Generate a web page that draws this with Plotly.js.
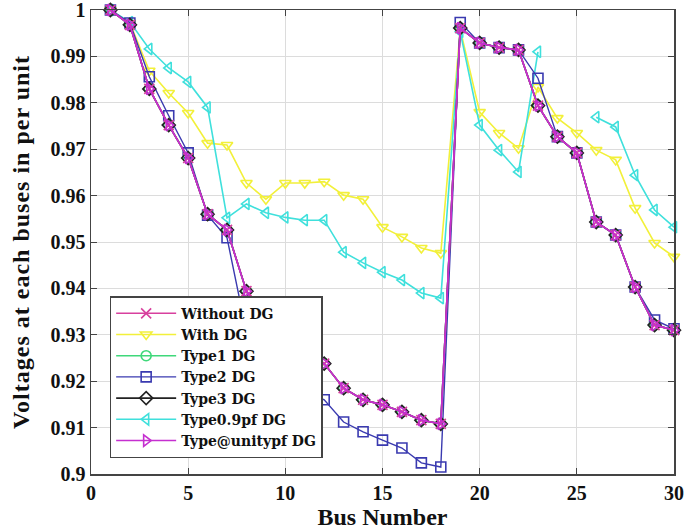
<!DOCTYPE html>
<html>
<head>
<meta charset="utf-8">
<script src="https://cdn.plot.ly/plotly-3.0.1.min.js"></script>
<style>
  html, body { margin: 0; padding: 0; background: #fff; }
  #chart { width: 685px; height: 530px; }
  #chart .ytitle { letter-spacing: 1px; }
</style>
</head>
<body>
<div id="chart"></div>
<script>
const buses = [1,2,3,4,5,6,7,8,9,10,11,12,13,14,15,16,17,18,19,20,21,22,23,24,25,26,27,28,29,30];

const withoutDG = [1.000,0.9968,0.9830,0.9752,0.9681,0.9560,0.9526,0.9394,0.9320,0.9265,0.9255,0.9238,0.9185,0.9160,0.9149,0.9134,0.9116,0.9108,0.9961,0.9929,0.9919,0.9914,0.9794,0.9727,0.9692,0.9543,0.9515,0.9403,0.9321,0.9310];
const withDG    = [1.000,0.9972,0.9869,0.9821,0.9778,0.9713,0.9709,0.9627,0.9592,0.9627,0.9627,0.9630,0.9601,0.9592,0.9532,0.9511,0.9487,0.9476,0.9958,0.9780,0.9735,0.9702,0.9834,0.9767,0.9735,0.9698,0.9677,0.9573,0.9498,0.9468];
const type1DG   = [1.000,0.9968,0.9830,0.9752,0.9681,0.9560,0.9526,0.9394,0.9320,0.9265,0.9255,0.9238,0.9185,0.9160,0.9149,0.9134,0.9116,0.9108,0.9961,0.9929,0.9919,0.9914,0.9794,0.9727,0.9692,0.9543,0.9515,0.9403,0.9321,0.9310];
const type2DG   = [1.000,0.9972,0.9856,0.9772,0.9692,0.9558,0.9509,0.9305,0.9245,0.9195,0.9180,0.9160,0.9112,0.9091,0.9073,0.9056,0.9024,0.9015,0.9973,0.9929,0.9919,0.9914,0.9853,0.9727,0.9692,0.9543,0.9515,0.9403,0.9332,0.9313];
const type3DG   = [1.000,0.9968,0.9830,0.9752,0.9681,0.9560,0.9526,0.9394,0.9320,0.9265,0.9255,0.9238,0.9185,0.9160,0.9149,0.9134,0.9116,0.9108,0.9961,0.9929,0.9919,0.9914,0.9794,0.9727,0.9692,0.9543,0.9515,0.9403,0.9321,0.9310];
const type09pfDG= [1.000,0.9974,0.9916,0.9875,0.9845,0.9790,0.9552,0.9582,0.9563,0.9553,0.9547,0.9547,0.9478,0.9455,0.9435,0.9418,0.9390,0.9379,0.9953,0.9752,0.9698,0.9651,0.9910,null,null,0.9769,0.9748,0.9644,0.9569,0.9532];
const unitypfDG = [1.000,0.9968,0.9830,0.9752,0.9681,0.9560,0.9526,0.9394,0.9320,0.9265,0.9255,0.9238,0.9185,0.9160,0.9149,0.9134,0.9116,0.9108,0.9961,0.9929,0.9919,0.9914,0.9794,0.9727,0.9692,0.9543,0.9515,0.9403,0.9321,0.9310];

const seriesNames = ['Without DG','With DG','Type1 DG','Type2 DG','Type3 DG','Type0.9pf DG','Type@unitypf DG'];
const xTicks = [0,5,10,15,20,25,30];
const yTicks = [0.9,0.91,0.92,0.93,0.94,0.95,0.96,0.97,0.98,0.99,1];
const yTickText = ['0.9','0.91','0.92','0.93','0.94','0.95','0.96','0.97','0.98','0.99','1'];

function tr(y, name, color, symbol, rank, lw) {
  return {
    x: buses, y: y, name: name, type: 'scatter', mode: 'lines+markers',
    line: {color: color, width: lw || 1.6},
    marker: {symbol: symbol, size: 10, color: color, line: {color: color, width: 1.6}},
    legendrank: rank, cliponaxis: false, connectgaps: false
  };
}

const traces = [
  tr(withDG, seriesNames[1], '#f2f03a', 'triangle-down-open', 2),
  tr(type09pfDG, seriesNames[5], '#3fe0dc', 'triangle-left-open', 6),
  tr(type2DG, seriesNames[3], '#3a3ab0', 'square-open', 4, 1.4),
  tr(type1DG, seriesNames[2], '#3fd87a', 'circle-open', 3),
  tr(type3DG, seriesNames[4], '#222222', 'diamond-open', 5),
  tr(withoutDG, seriesNames[0], '#d8409e', 'x-thin-open', 1),
  tr(unitypfDG, seriesNames[6], '#c52fd0', 'triangle-right-open', 7)
];

const fontB = {family: 'Liberation Serif, Times New Roman, serif', color: '#111', weight: 'bold'};

const layout = {
  width: 685, height: 530,
  margin: {l: 91, r: 11, t: 10, b: 56},
  paper_bgcolor: '#fff', plot_bgcolor: '#fff',
  showlegend: true,
  legend: {
    x: 0.032, y: 0.034, xanchor: 'left', yanchor: 'bottom',
    bgcolor: '#fff', bordercolor: '#444', borderwidth: 1.5,
    font: {family: 'DejaVu Serif, serif', color: '#111', weight: 'bold', size: 14},
    itemwidth: 60, tracegroupgap: 0, traceorder: 'normal'
  },
  xaxis: {
    range: [0, 30], tickvals: xTicks, ticktext: xTicks.map(String),
    showgrid: true, gridcolor: '#dcdcdc', gridwidth: 1,
    zeroline: false, showline: true, linecolor: '#444', linewidth: 1.5, mirror: 'ticks',
    ticks: 'inside', ticklen: 6, tickcolor: '#444', ticklabeloverflow: 'allow',
    tickfont: Object.assign({}, fontB, {size: 20}),
    title: {text: 'Bus Number', font: Object.assign({}, fontB, {size: 24}), standoff: 6}
  },
  yaxis: {
    range: [0.9, 1], tickvals: yTicks, ticktext: yTickText,
    showgrid: true, gridcolor: '#dcdcdc', gridwidth: 1,
    zeroline: false, showline: true, linecolor: '#444', linewidth: 1.5, mirror: 'ticks',
    ticks: 'inside', ticklen: 6, tickcolor: '#444', ticklabeloverflow: 'allow',
    tickfont: Object.assign({}, fontB, {size: 20}),
    title: {text: 'Voltages at each buses in per unit', font: Object.assign({}, fontB, {size: 24}), standoff: 14}
  }
};

Plotly.newPlot('chart', traces, layout, {displayModeBar: false, staticPlot: true});
</script>
</body>
</html>
